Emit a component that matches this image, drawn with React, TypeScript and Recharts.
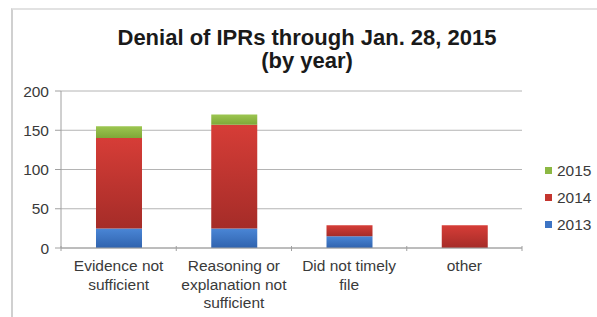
import React from "react";
import { BarChart, Bar, XAxis, YAxis, CartesianGrid } from "recharts";

const categories = [
  "Evidence not\nsufficient",
  "Reasoning or\nexplanation not\nsufficient",
  "Did not timely\nfile",
  "other",
];
const y2013 = [25, 25, 15, 0];
const y2014 = [115, 132, 14, 29];
const y2015 = [15, 13, 0, 0];
const yTicks = [0, 50, 100, 150, 200];
const seriesNames = ["2013", "2014", "2015"];

const data = categories.map((c, i) => ({
  name: c,
  "2013": y2013[i],
  "2014": y2014[i],
  "2015": y2015[i],
}));

const colors: Record<string, string> = { "2013": "#3d74c4", "2014": "#c4352f", "2015": "#8cb843" };

const FONT = "'Liberation Sans', Arial, sans-serif";
const PLOT_LEFT = 61;
const PLOT_RIGHT = 522;
const BAND = (PLOT_RIGHT - PLOT_LEFT) / categories.length;

const XTick = (props: any) => {
  const { x, y, payload, index } = props;
  const lines = String(payload.value).split("\n");
  const axisY = y - 10;
  return (
    <g>
      <line x1={x - BAND / 2} x2={x - BAND / 2} y1={axisY} y2={axisY + 5} stroke="#a0a0a0" />
      {index === categories.length - 1 && (
        <line x1={x + BAND / 2} x2={x + BAND / 2} y1={axisY} y2={axisY + 5} stroke="#a0a0a0" />
      )}
      <text x={x} y={axisY + 25} textAnchor="middle" fontSize={15.5} fill="#3a3a3a" fontFamily={FONT}>
        {lines.map((l, i) => (
          <tspan key={i} x={x} dy={i === 0 ? 0 : 18.5}>
            {l}
          </tspan>
        ))}
      </text>
    </g>
  );
};

const LegendBox = () => (
  <div
    style={{
      position: "absolute",
      left: 545,
      top: 157,
      fontFamily: FONT,
      fontSize: 15.5,
      color: "#3a3a3a",
    }}
  >
    {[...seriesNames].reverse().map((s) => (
      <div key={s} style={{ display: "flex", alignItems: "center", height: 27 }}>
        <span style={{ display: "inline-block", width: 7, height: 7, background: colors[s], marginRight: 5 }} />
        <span>{s}</span>
      </div>
    ))}
  </div>
);

export default function App() {
  return (
    <div style={{ position: "absolute", left: 0, top: 0, width: 597, height: 317, background: "#fff", overflow: "hidden" }}>
      <div
        style={{
          position: "absolute",
          left: 11,
          top: 8,
          width: 600,
          height: 320,
          borderLeft: "2px solid #d0d0d0",
          borderTop: "2px solid #e2e2e2",
        }}
      />
      <div
        style={{
          position: "absolute",
          left: 0,
          width: 614,
          top: 26,
          textAlign: "center",
          fontFamily: FONT,
          fontWeight: "bold",
          fontSize: 22,
          lineHeight: "23px",
          color: "#1a1a1a",
        }}
      >
        Denial of IPRs through Jan. 28, 2015
        <br />
        (by year)
      </div>
      <BarChart
        width={597}
        height={317}
        data={data}
        margin={{ top: 91, right: 597 - PLOT_RIGHT, bottom: 0, left: 0 }}
        barSize={46}
        style={{ position: "absolute", left: 0, top: 0 }}
      >
        <defs>
          <linearGradient id="g2013" x1="0" y1="0" x2="0" y2="1">
            <stop offset="0%" stopColor="#4a86d6" />
            <stop offset="100%" stopColor="#3063ae" />
          </linearGradient>
          <linearGradient id="g2014" x1="0" y1="0" x2="0" y2="1">
            <stop offset="0%" stopColor="#d63d37" />
            <stop offset="100%" stopColor="#a52c28" />
          </linearGradient>
          <linearGradient id="g2015" x1="0" y1="0" x2="0" y2="1">
            <stop offset="0%" stopColor="#9cc650" />
            <stop offset="100%" stopColor="#7ea738" />
          </linearGradient>
        </defs>
        <CartesianGrid vertical={false} stroke="#b4b4b4" />
        <XAxis
          dataKey="name"
          tick={<XTick />}
          tickLine={false}
          axisLine={{ stroke: "#a0a0a0" }}
          interval={0}
          height={69}
        />
        <YAxis
          width={PLOT_LEFT}
          domain={[0, 200]}
          ticks={yTicks}
          tick={{ fontSize: 15.5, fill: "#3a3a3a", fontFamily: FONT }}
          tickLine={{ stroke: "#a0a0a0" }}
          tickSize={6}
          tickMargin={6}
          axisLine={{ stroke: "#a0a0a0" }}
        />
        {seriesNames.map((s) => (
          <Bar key={s} dataKey={s} stackId="a" fill={`url(#g${s})`} isAnimationActive={false} />
        ))}
      </BarChart>
      <LegendBox />
    </div>
  );
}
